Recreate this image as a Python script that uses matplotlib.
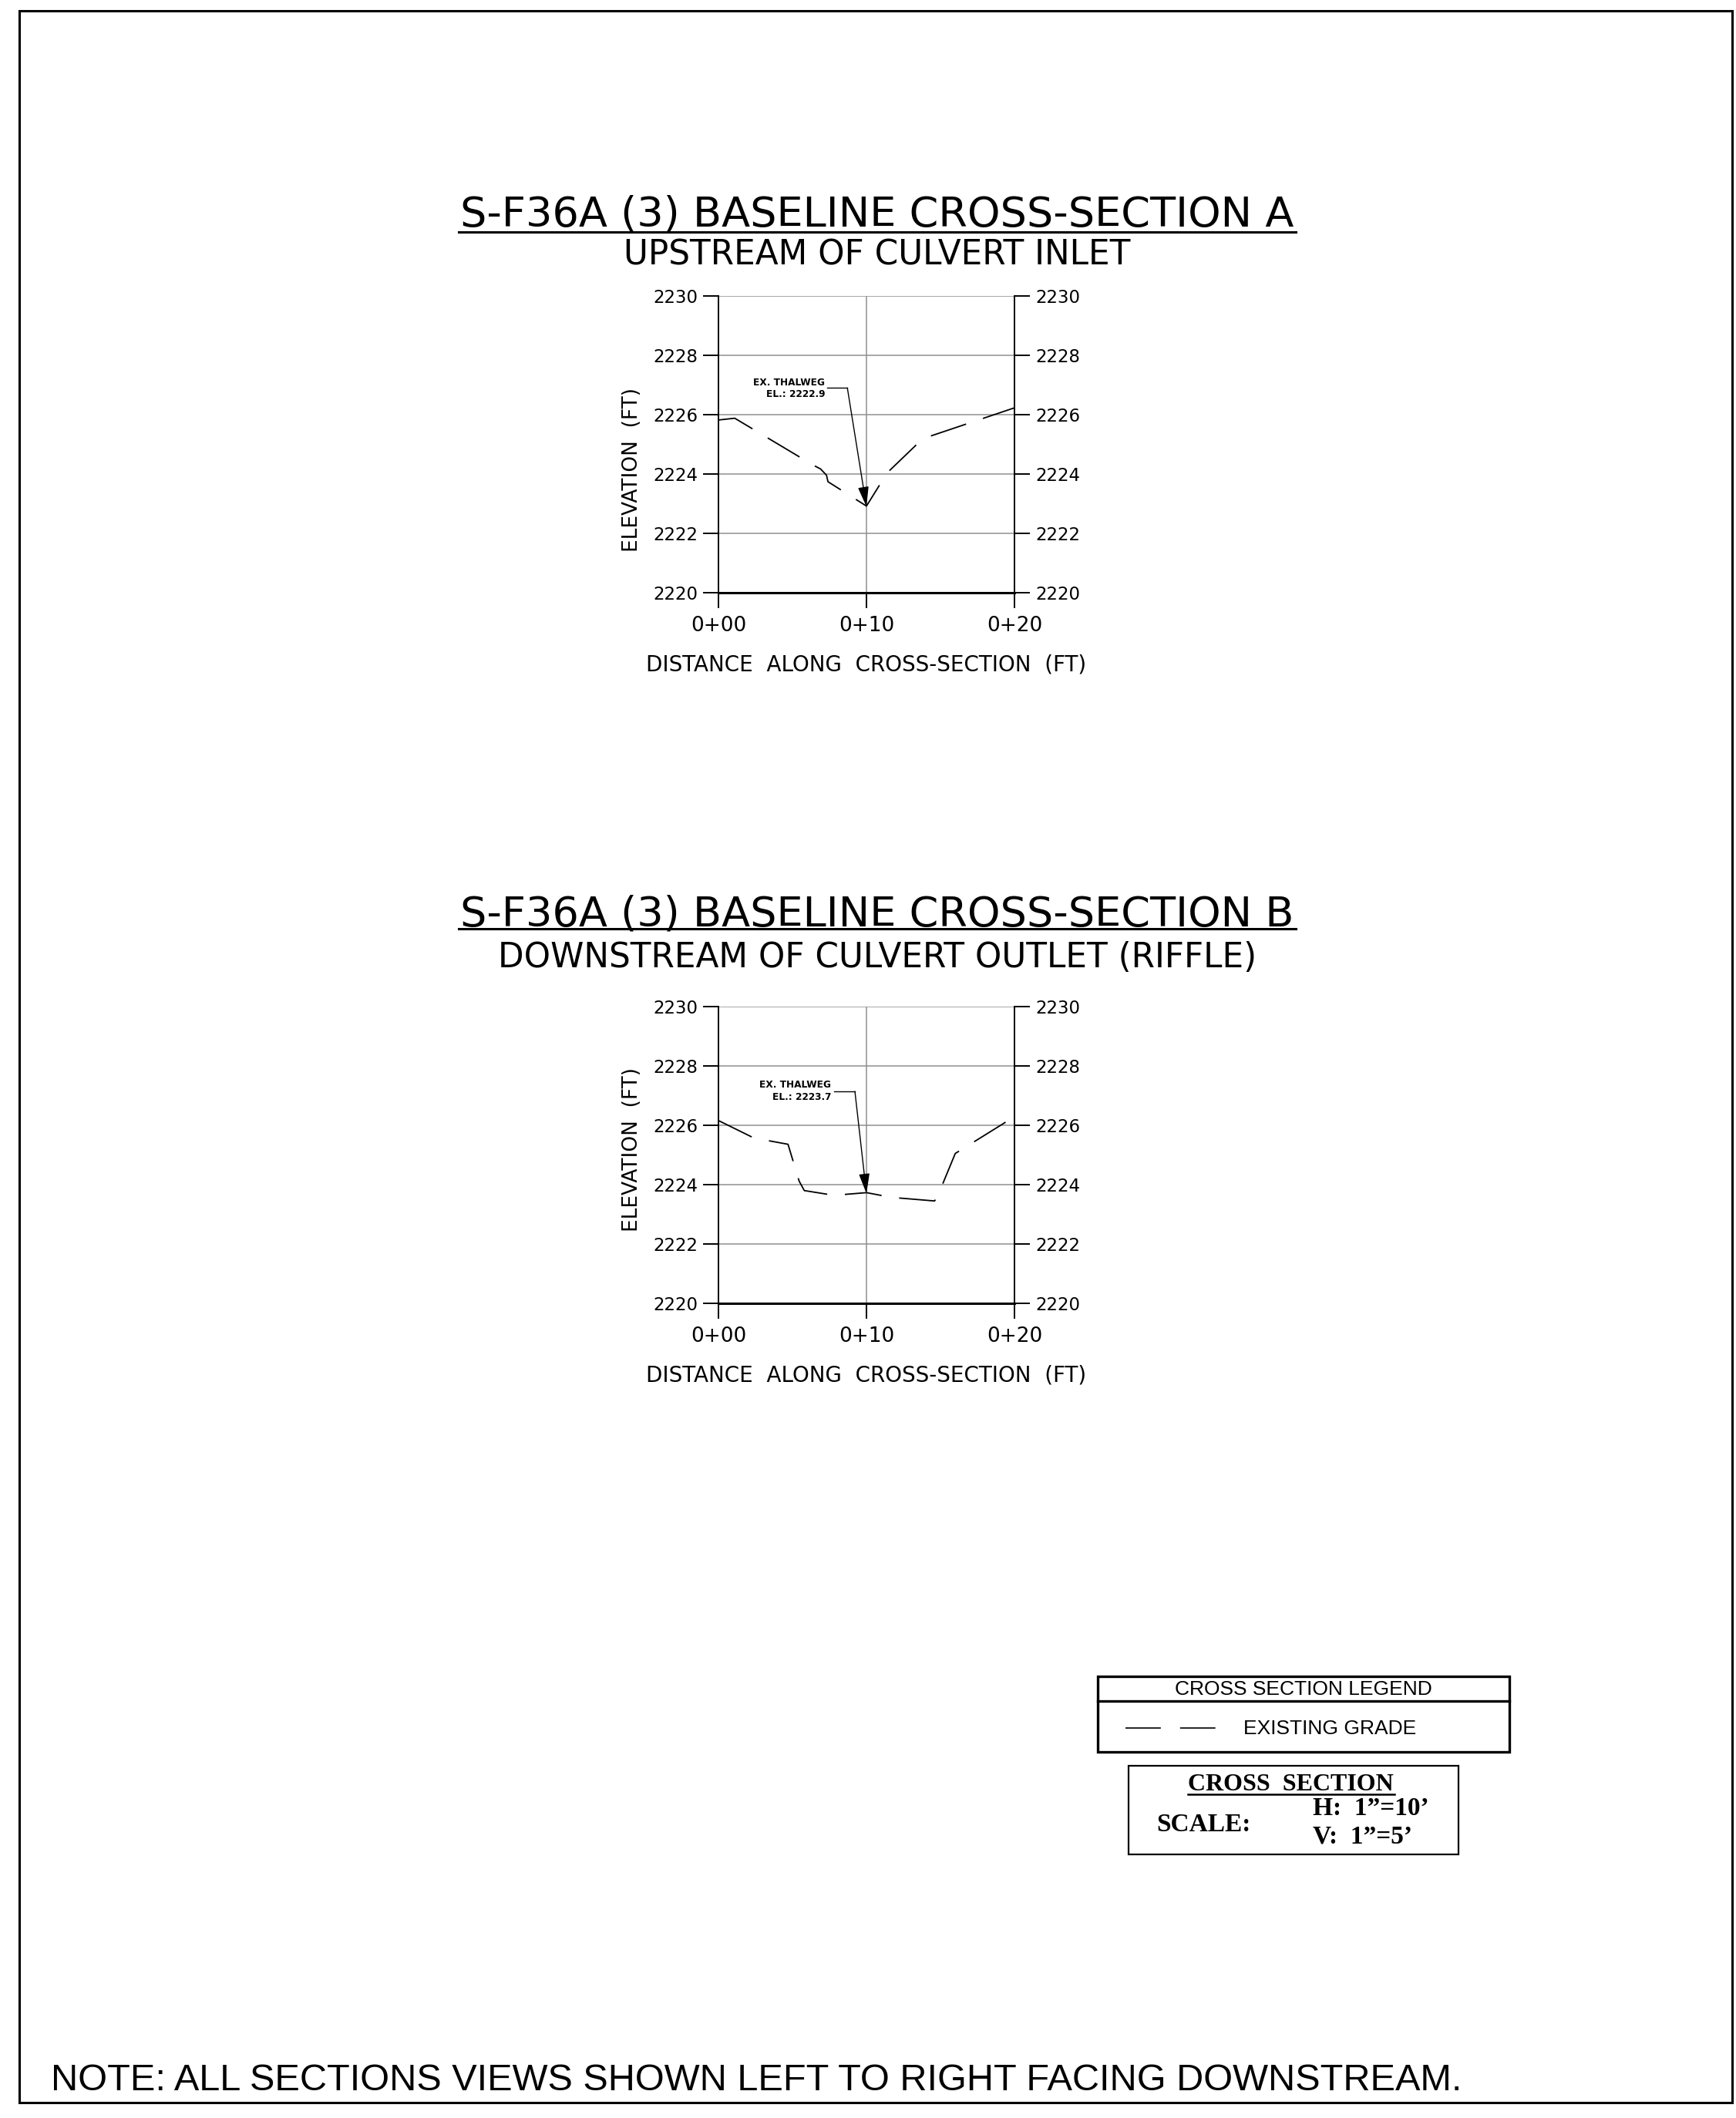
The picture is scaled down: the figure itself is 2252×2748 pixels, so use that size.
import matplotlib
matplotlib.use("Agg")
import matplotlib.pyplot as plt
from matplotlib.patches import Rectangle

# cross-section A (upstream of culvert inlet)
a_dist = [0.0, 1.1, 6.4, 6.9, 7.3, 7.4, 10.0, 11.4, 13.8, 20.0]
a_elev = [2225.82, 2225.88, 2224.30, 2224.17, 2223.96, 2223.74, 2222.92, 2224.04, 2225.19, 2226.23]
a_thalweg = 2222.9

# cross-section B (downstream of culvert outlet)
b_dist = [0.0, 2.4, 4.7, 5.45, 5.8, 7.8, 10.0, 11.7, 14.6, 14.8, 16.0, 20.0]
b_elev = [2226.16, 2225.57, 2225.36, 2224.12, 2223.80, 2223.64, 2223.73, 2223.57, 2223.45, 2223.60, 2225.05, 2226.29]
b_thalweg = 2223.7

y_ticks = [2220, 2222, 2224, 2226, 2228, 2230]
x_ticks = [0, 10, 20]
x_labels = ['0+00', '0+10', '0+20']

W, H = 2252, 2748
plt.rcParams['lines.scale_dashes'] = False
plt.rcParams['font.family'] = ['DejaVu Sans']

fig = plt.figure(figsize=(W / 100, H / 100), dpi=100)
fig.patch.set_facecolor('white')


def fx(x):
    return x / W


def fy(y):
    return 1 - y / H


def section(top, dist, elev, thalweg, title, subtitle, t_base, u_y, s_base,
            lbl_y, note_x, note_y, lead_x, corner_x, lead_y):
    ax = fig.add_axes([fx(932), fy(top + 385), 384 / W, 385 / H])
    ax.set_xlim(0, 20)
    ax.set_ylim(2220, 2230)
    ax.set_xticks(x_ticks)
    ax.set_xticklabels(x_labels)
    ax.set_yticks(y_ticks)
    ax.set_yticklabels([str(v) for v in y_ticks])
    ax.grid(True, color='#8f8f8f', lw=1.1)
    ax.set_axisbelow(True)
    ax.spines['top'].set_visible(False)
    for s in ['left', 'right']:
        ax.spines[s].set_linewidth(1.4)
    ax.spines['bottom'].set_linewidth(2.2)
    ax.tick_params(axis='y', left=True, right=True, labelleft=True, labelright=True,
                   direction='out', length=14.4, width=1.4, pad=5, labelsize=16.5)
    ax.tick_params(axis='x', direction='out', length=14.4, width=1.4, pad=7, labelsize=19)

    ax.plot(dist, elev, color='k', lw=1.3, dashes=(34.6, 16.6))

    # thalweg call-out
    ax.text(note_x, note_y, 'EX. THALWEG\nEL.: %.1f' % thalweg, ha='right', va='center',
            fontsize=8.7, fontweight='bold', linespacing=1.25)
    ax.plot([lead_x, corner_x], [lead_y, lead_y], color='k', lw=1.0)
    ax.annotate('', xy=(10, thalweg), xytext=(corner_x, lead_y),
                arrowprops=dict(arrowstyle='-|>,head_length=16,head_width=4.3',
                                color='k', lw=1.0, shrinkA=0, shrinkB=0,
                                mutation_scale=1))

    fig.text(fx(1138), fy(t_base), title, ha='center', va='baseline', fontsize=39)
    fig.add_artist(plt.Line2D([fx(595), fx(1681)], [fy(u_y), fy(u_y)], color='k', lw=2.2))
    fig.text(fx(1138), fy(s_base), subtitle, ha='center', va='baseline', fontsize=31.5)
    fig.text(fx(820), fy(lbl_y), 'ELEVATION  (FT)', rotation=90, ha='center', va='center',
             fontsize=19)
    fig.text(fx(1124), fy(top + 486), 'DISTANCE  ALONG  CROSS-SECTION  (FT)', ha='center',
             va='baseline', fontsize=20)
    return ax


section(384, a_dist, a_elev, a_thalweg, 'S-F36A (3) BASELINE CROSS-SECTION A',
        'UPSTREAM OF CULVERT INLET', 294, 301, 343, 610, 7.19, 2226.88, 7.36, 8.71, 2226.9)
section(1306, b_dist, b_elev, b_thalweg, 'S-F36A (3) BASELINE CROSS-SECTION B',
        'DOWNSTREAM OF CULVERT OUTLET (RIFFLE)', 1201, 1205, 1255, 1491, 7.62, 2227.15, 7.80,
        9.22, 2227.14)

# outer sheet border
fig.add_artist(Rectangle((fx(25), fy(2728)), (2247 - 25) / W, (2728 - 14) / H,
                         fill=False, ec='k', lw=2.2, transform=fig.transFigure))

# cross section legend box
sans = ['Liberation Sans', 'DejaVu Sans']
fig.add_artist(Rectangle((fx(1424), fy(2273)), (1958 - 1424) / W, (2273 - 2175) / H,
                         fill=False, ec='k', lw=2.4, transform=fig.transFigure))
fig.add_artist(plt.Line2D([fx(1424), fx(1958)], [fy(2207), fy(2207)], color='k', lw=2.4))
fig.text(fx(1691), fy(2199), 'CROSS SECTION LEGEND', ha='center', va='baseline',
         fontsize=19, family=sans)
fig.add_artist(plt.Line2D([fx(1460), fx(1578)], [fy(2242), fy(2242)], color='k', lw=1.2,
                          dashes=(33, 18)))
fig.text(fx(1613), fy(2250), 'EXISTING GRADE', ha='left', va='baseline',
         fontsize=19, family=sans)

# scale box
fig.add_artist(Rectangle((fx(1464), fy(2406)), (1892 - 1464) / W, (2406 - 2291) / H,
                         fill=False, ec='k', lw=1.6, transform=fig.transFigure))
serif = ['Liberation Serif', 'DejaVu Serif']
fig.text(fx(1674), fy(2323), 'CROSS  SECTION', ha='center', va='baseline', fontsize=23,
         fontweight='bold', family=serif)
fig.add_artist(plt.Line2D([fx(1541), fx(1809)], [fy(2328), fy(2328)], color='k', lw=1.8))
fig.text(fx(1500), fy(2376), 'SCALE:', ha='left', va='baseline', fontsize=24,
         fontweight='bold', family=serif)
fig.text(fx(1703), fy(2355), 'H:  1\u201d=10\u2019', ha='left', va='baseline', fontsize=24,
         fontweight='bold', family=serif)
fig.text(fx(1703), fy(2392), 'V:  1\u201d=5\u2019', ha='left', va='baseline', fontsize=24,
         fontweight='bold', family=serif)

fig.text(fx(66), fy(2712), 'NOTE: ALL SECTIONS VIEWS SHOWN LEFT TO RIGHT FACING DOWNSTREAM.',
         ha='left', va='baseline', fontsize=35, family=sans)

fig.savefig('out.png', dpi=100, facecolor='white')
